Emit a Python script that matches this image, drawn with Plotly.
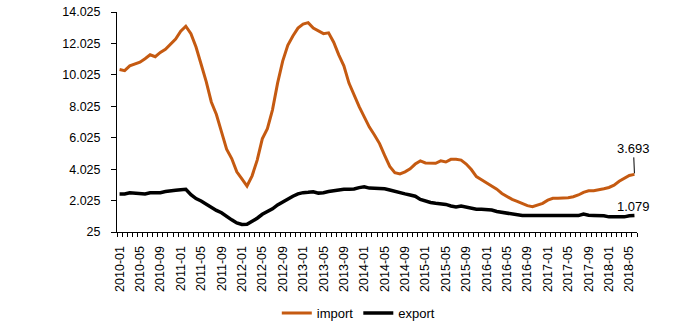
import plotly.graph_objects as go

# Monthly periods, 2010-01 .. 2018-06
months = [f"{y}-{m:02d}" for y in range(2010, 2019) for m in range(1, 13)][:102]

imports = [
    10370, 10290, 10600, 10700, 10830, 11050, 11300, 11180, 11450, 11650,
    11950, 12300, 12800, 13120, 12650, 11800, 10700, 9600, 8300, 7500,
    6400, 5300, 4700, 3850, 3400, 2950, 3600, 4600, 5950, 6600,
    7800, 9500, 10900, 11900, 12500, 13000, 13250, 13350, 13000, 12850,
    12650, 12700, 12100, 11300, 10600, 9500, 8700, 8000, 7350, 6700,
    6200, 5650, 4900, 4200, 3800, 3720, 3850, 4050, 4350, 4550,
    4420, 4400, 4400, 4550, 4480, 4650, 4650, 4600, 4350, 4000,
    3550, 3350, 3150, 2950, 2750, 2480, 2300, 2100, 1980, 1850,
    1700, 1634, 1720, 1850, 2050, 2170, 2170, 2170, 2200, 2270,
    2380, 2550, 2650, 2650, 2700, 2780, 2860, 3000, 3250, 3450,
    3620, 3693,
]

exports = [
    2440, 2440, 2520, 2500, 2430, 2450, 2520, 2520, 2530, 2600,
    2660, 2680, 2720, 2740, 2400, 2150, 2000, 1800, 1550, 1400,
    1250, 1000, 800, 600, 500, 520, 680, 900, 1150, 1300,
    1500, 1750, 1950, 2150, 2300, 2450, 2530, 2550, 2590, 2500,
    2520, 2600, 2650, 2720, 2740, 2740, 2760, 2850, 2900, 2820,
    2800, 2800, 2780, 2700, 2600, 2520, 2450, 2380, 2300, 2100,
    1980, 1900, 1850, 1830, 1780, 1680, 1620, 1680, 1600, 1520,
    1470, 1470, 1470, 1420, 1330, 1270, 1240, 1150, 1080, 1070,
    1070, 1070, 1070, 1070, 1070, 1070, 1070, 1070, 1070, 1070,
    1070, 1170, 1090, 1080, 1080, 1060, 990, 980, 980, 990,
    1060, 1079,
]

y_ticks = [25, 2025, 4025, 6025, 8025, 10025, 12025, 14025]

idx = list(range(len(months)))
label_idx = idx[::4]
label_txt = [months[i] for i in label_idx]

def fmt(v):
    return f"{v:,}".replace(",", ".")

FONT = "Liberation Sans, Arial, sans-serif"
ORANGE = "#C55A11"

fig = go.Figure()
fig.add_trace(go.Scatter(x=idx, y=imports, mode="lines", name="import",
                         line=dict(color=ORANGE, width=3)))
fig.add_trace(go.Scatter(x=idx, y=exports, mode="lines", name="export",
                         line=dict(color="black", width=3.5)))

last = idx[-1]
fig.add_annotation(x=last, y=imports[-1], text=fmt(imports[-1]),
                   showarrow=True, arrowhead=0, arrowwidth=1, arrowcolor="black",
                   ax=-1, ay=-26, standoff=1,
                   font=dict(family=FONT, size=13, color="black"))
fig.add_annotation(x=last, y=exports[-1], text=fmt(exports[-1]),
                   showarrow=False, yshift=9, xshift=-1,
                   font=dict(family=FONT, size=13, color="black"))

fig.update_layout(
    width=700, height=327,
    margin=dict(l=117, r=63, t=12, b=95, autoexpand=False),
    paper_bgcolor="white", plot_bgcolor="white",
    font=dict(family=FONT, size=12.5, color="black"),
    separators=",.",
    showlegend=True,
    legend=dict(orientation="h", x=0.465, xanchor="center", y=-0.30,
                yanchor="top", font=dict(family=FONT, size=13),
                itemwidth=30, tracegroupgap=0),
)
fig.update_xaxes(
    range=[-0.5, len(months) - 0.5],
    tickmode="array", tickvals=label_idx, ticktext=label_txt,
    tickangle=-90, ticks="", ticklabelstandoff=8,
    showline=True, linecolor="black", linewidth=1,
    showgrid=False, zeroline=False, automargin=False,
    minor=dict(ticks="outside", tick0=-0.5, dtick=1, ticklen=4,
               tickcolor="black", tickwidth=1, showgrid=False),
)
fig.update_yaxes(
    range=[25, 14025], tickmode="array", tickvals=y_ticks,
    tickformat=",", ticks="outside", ticklen=5, tickcolor="black",
    ticklabelstandoff=8, automargin=False,
    showline=True, linecolor="black", linewidth=1,
    showgrid=False, zeroline=False,
)

fig.write_html("out.html")
